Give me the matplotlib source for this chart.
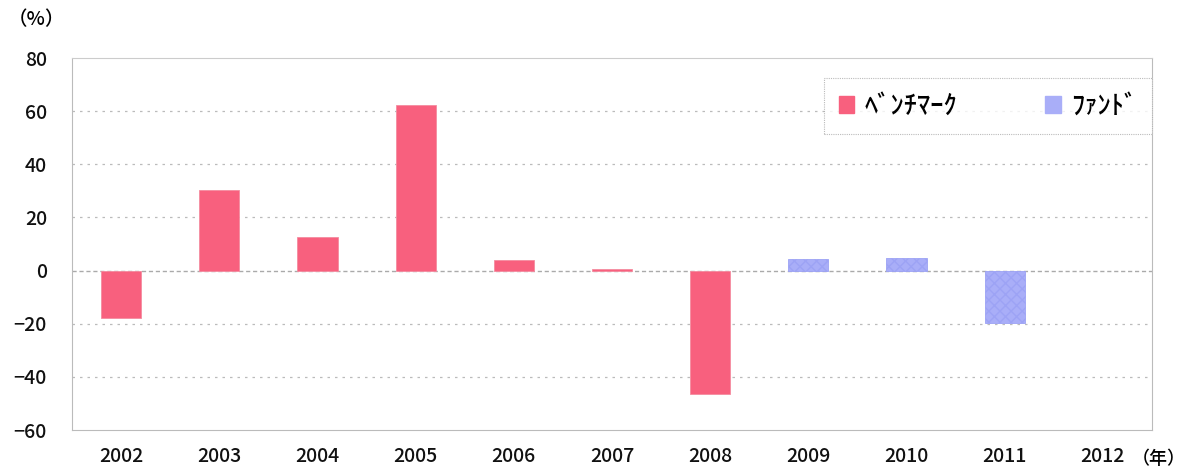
import matplotlib
matplotlib.use("Agg")
import matplotlib.pyplot as plt
from matplotlib.patches import Patch
import numpy as np

plt.rcParams['font.family'] = ['Noto Sans CJK JP', 'DejaVu Sans']

years = ['2002', '2003', '2004', '2005', '2006', '2007', '2008', '2009', '2010', '2011', '2012']
benchmark = [-18.0, 30.5, 12.8, 62.5, 3.8, 0.5, -46.4, np.nan, np.nan, np.nan, np.nan]
fund = [np.nan, np.nan, np.nan, np.nan, np.nan, np.nan, np.nan, 4.5, 4.9, -19.6, np.nan]
yticks = [-60, -40, -20, 0, 20, 40, 60, 80]

fig = plt.figure(figsize=(11.89, 4.68), dpi=100)
ax = fig.add_axes([72/1189, 1 - 430/468, (1152-72)/1189, (430-58)/468])

x = np.arange(len(years))
pink = '#F8607E'
blue = '#A9AEF8'
ax.bar(x, benchmark, width=0.41, color=pink, edgecolor='#F48CA0', linewidth=0.6, zorder=3)
ax.bar(x, fund, width=0.41, color=blue, edgecolor='#9DA3F5', linewidth=0.6,
       hatch='xxx', zorder=3)

ax.set_xlim(-0.5, len(years) - 0.5)
ax.set_ylim(-60, 80)
ax.set_yticks(yticks)
ax.set_xticks(x)
ax.set_xticklabels(years)
ax.tick_params(axis='both', length=0, labelsize=14, colors='#111111')
ax.tick_params(axis='x', pad=12)
ax.tick_params(axis='y', pad=18)
for t in ax.get_xticklabels() + ax.get_yticklabels():
    t.set_fontweight('medium')

for v in [60, 40, 20, -20, -40]:
    ax.axhline(v, color='#BBBBBB', linestyle=(0, (2, 4)), linewidth=0.9, zorder=1)
ax.axhline(0, color='#AAAAAA', linestyle=(0, (3, 2)), linewidth=1.0, zorder=2)

ax.spines['top'].set_color('#CCCCCC')
for s in ['left', 'right', 'bottom']:
    ax.spines[s].set_color('#BBBBBB')
    ax.spines[s].set_linestyle((0, (1, 1)))
ax.spines['left'].set_linestyle('-')

fig.text(36/1189, 1 - 20/468, '（%）', fontsize=14, ha='center', va='center', fontweight='medium')
fig.text(1186/1189, 1 - 459/468, '（年）', fontsize=13, ha='right', va='center', fontweight='medium')

handles = [Patch(facecolor=pink, edgecolor=pink, label='ﾍﾞﾝﾁﾏｰｸ'),
           Patch(facecolor=blue, edgecolor=blue, hatch='xxx', label='ﾌｧﾝﾄﾞ')]
leg = ax.legend(handles=handles, loc='upper right', bbox_to_anchor=(1.0, 0.946),
                ncol=2, frameon=True, fontsize=19, handlelength=0.6, handleheight=0.6,
                columnspacing=3.3, borderpad=0.55, handletextpad=0.4, fancybox=False,
                borderaxespad=0)
leg.get_frame().set_edgecolor('#AAAAAA')
leg.get_frame().set_linestyle((0, (1, 1)))
leg.get_frame().set_linewidth(0.8)
for t in leg.get_texts():
    t.set_fontweight('medium')

fig.savefig('out.png', dpi=100, facecolor='white')
